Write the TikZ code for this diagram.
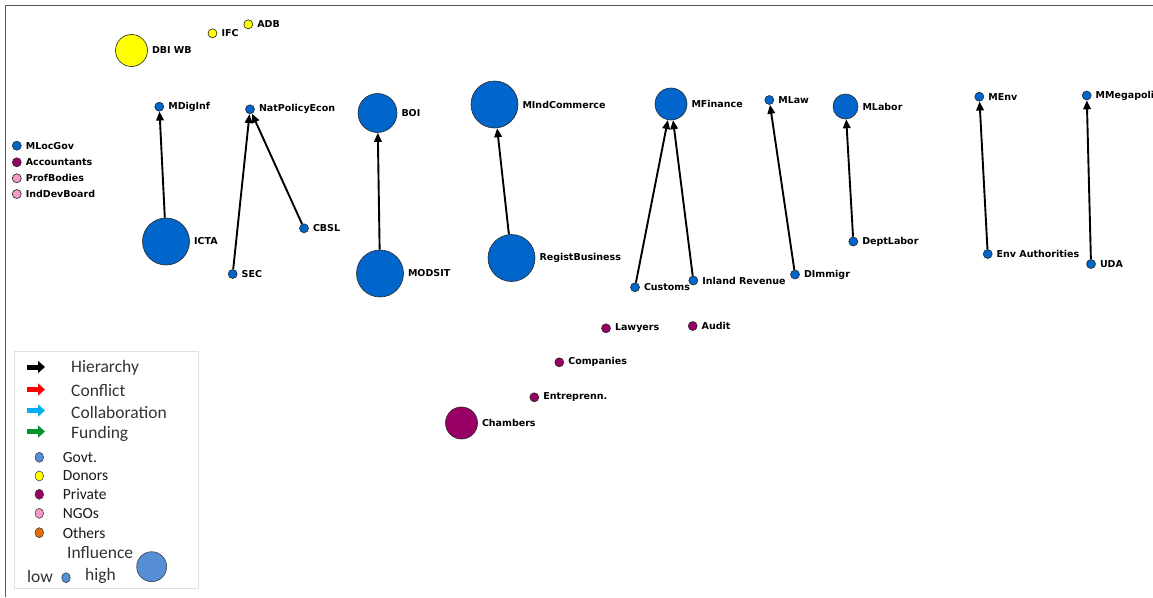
\documentclass[tikz,border=0pt]{standalone}
\usepackage{fontspec}
\setmainfont{DejaVu Sans}
\newfontfamily\legfont{Carlito}
\usetikzlibrary{arrows.meta,shapes.geometric}
\definecolor{govblue}{HTML}{0066CC}
\definecolor{donoryel}{HTML}{FFFF00}
\definecolor{privpur}{HTML}{990066}
\definecolor{ngopink}{HTML}{F49AC8}
\definecolor{leggov}{HTML}{558ED5}
\definecolor{legoth}{HTML}{E36C09}
\definecolor{legcyan}{HTML}{00B0F0}
\definecolor{leggreen}{HTML}{00952A}
\definecolor{framegray}{HTML}{555555}
\begin{document}
\begin{tikzpicture}[x=1pt,y=-1pt,
  actor/.style={circle, draw=black!85, line width=0.6pt, inner sep=0pt, minimum size=#1},
  actor/.default=9pt,
  gov/.style={fill=govblue},
  donor/.style={fill=donoryel},
  priv/.style={fill=privpur},
  ngo/.style={fill=ngopink},
  every label/.style={font=\bfseries\fontsize{9.5}{10}\selectfont, inner sep=0pt, text=black},
  label distance=4pt,
  tie/.style={-{Triangle[length=9pt,width=7.5pt]}, line width=1.9pt, black},
  legarrow/.style={line width=5pt, -{Triangle[length=7pt,width=12pt]}},
  legtxt/.style={font=\legfont\fontsize{17.5}{18}\selectfont, anchor=west, inner sep=0pt, text=black!80},
  legsm/.style={font=\legfont\fontsize{15.5}{16}\selectfont, anchor=west, inner sep=0pt, text=black!90},
  legdot/.style={ellipse, draw=black!80, line width=0.5pt, inner sep=0pt, minimum width=8.6pt, minimum height=10pt}
]
\useasboundingbox (0,0) rectangle (1153,597);
\fill[white] (0,0) rectangle (1153,597);
% frame
\draw[framegray, line width=1.4pt] (5.5,597) -- (5.5,5.5) -- (1153,5.5);

% donors
\node[actor=32pt, donor, label=right:DBI WB] (dbiwb) at (131.5,50.5) {};
\node[actor, donor, label=right:IFC] (ifc) at (212.5,33.3) {};
\node[actor, donor, label=right:ADB] (adb) at (248.3,24.3) {};

% top row
\node[actor, gov, label=right:MDigInf] (mdiginf) at (159.3,106.7) {};
\node[actor, gov, label=right:NatPolicyEcon] (natpol) at (250,109.3) {};
\node[actor=39pt, gov, label=right:BOI] (boi) at (377.5,113) {};
\node[actor=47pt, gov, label=right:MIndCommerce] (mind) at (494.5,104.5) {};
\node[actor=32pt, gov, label=right:MFinance] (mfin) at (671,104) {};
\node[actor, gov, label=right:MLaw] (mlaw) at (769.3,100) {};
\node[actor=25pt, gov, label=right:MLabor] (mlabor) at (845.5,106.5) {};
\node[actor, gov, label=right:MEnv] (menv) at (979.3,96.7) {};
\node[actor, gov, label=right:MMegapoli] (mmega) at (1086.7,95.5) {};

% isolates left
\node[actor, gov, label=right:MLocGov] (mlocgov) at (16.8,145.7) {};
\node[actor, priv, label=right:Accountants] (acc) at (16.8,162.3) {};
\node[actor, ngo, label=right:ProfBodies] (prof) at (16.8,178.3) {};
\node[actor, ngo, label=right:IndDevBoard] (inddev) at (16.8,194) {};

% lower row
\node[actor=47pt, gov, label=right:ICTA] (icta) at (166,241.5) {};
\node[actor, gov, label=right:CBSL] (cbsl) at (304,228.3) {};
\node[actor, gov, label=right:SEC] (sec) at (232.7,274) {};
\node[actor=47pt, gov, label=right:MODSIT] (modsit) at (380,273.5) {};
\node[actor=47pt, gov, label=right:RegistBusiness] (regist) at (511.5,258) {};
\node[actor, gov, label=right:Customs] (customs) at (635,287.3) {};
\node[actor, gov, label=right:Inland Revenue] (inland) at (693.3,280.5) {};
\node[actor, gov, label=right:DImmigr] (dimm) at (795,274.5) {};
\node[actor, gov, label=right:DeptLabor] (deptlab) at (853.3,241.5) {};
\node[actor, gov, label=right:Env Authorities] (envauth) at (987.7,254) {};
\node[actor, gov, label=right:UDA] (uda) at (1091,264) {};

% private
\node[actor, priv, label=right:Lawyers] (lawyers) at (606,328.3) {};
\node[actor, priv, label=right:Audit] (audit) at (692.7,326) {};
\node[actor, priv, label=right:Companies] (comp) at (559.3,362.3) {};
\node[actor, priv, label=right:Entreprenn.] (entre) at (534.3,397.3) {};
\node[actor=32pt, priv, label=right:Chambers] (chambers) at (461.5,423) {};

% hierarchy ties
\draw[tie] (icta) -- (mdiginf);
\draw[tie] (sec) -- (natpol);
\draw[tie] (cbsl) -- (natpol);
\draw[tie] (modsit) -- (boi);
\draw[tie] (regist) -- (mind);
\draw[tie] (customs) -- (mfin);
\draw[tie] (inland) -- (mfin);
\draw[tie] (dimm) -- (mlaw);
\draw[tie] (deptlab) -- (mlabor);
\draw[tie] (envauth) -- (menv);
\draw[tie] (uda) -- (mmega);

% legend
\node[draw=black!12, line width=0.6pt, minimum width=184pt, minimum height=236.6pt, inner sep=0pt] (legbox) at (106.7,470) {};
\coordinate (la1) at (27.3,367); \coordinate (lb1) at (45,367);
\coordinate (la2) at (27.3,389.5); \coordinate (lb2) at (45,389.5);
\coordinate (la3) at (27.3,410.5); \coordinate (lb3) at (45,410.5);
\coordinate (la4) at (27.3,431.5); \coordinate (lb4) at (45,431.5);
\draw[legarrow, black] (la1) -- (lb1);
\draw[legarrow, red] (la2) -- (lb2);
\draw[legarrow, legcyan] (la3) -- (lb3);
\draw[legarrow, leggreen] (la4) -- (lb4);
\node[legtxt] (t1) at (71,368.3) {Hierarchy};
\node[legtxt] (t2) at (71,391) {Conflict};
\node[legtxt] (t3) at (71,412.3) {Collaboration};
\node[legtxt] (t4) at (71,434) {Funding};

\node[legdot, fill=leggov] (d1) at (39.3,457.3) {};
\node[legdot, fill=donoryel] (d2) at (39.3,476) {};
\node[legdot, fill=privpur] (d3) at (39.3,494.3) {};
\node[legdot, fill=ngopink] (d4) at (39.3,513.3) {};
\node[legdot, fill=legoth] (d5) at (39.3,532.7) {};
\node[legsm] (g1) at (62.7,457.3) {Govt.};
\node[legsm] (g2) at (62.7,476) {Donors};
\node[legsm] (g3) at (62.7,494.3) {Private};
\node[legsm] (g4) at (62.7,513.3) {NGOs};
\node[legsm] (g5) at (62.7,532.7) {Others};

\node[legtxt] (infl) at (67,553) {Influence};
\node[legtxt] (low) at (27,576) {low};
\node[legdot, fill=leggov] (lowdot) at (66,577.7) {};
\node[legtxt] (high) at (85,576) {high};
\node[circle, draw=black!80, line width=0.5pt, inner sep=0pt, minimum size=30pt, fill=leggov] (highdot) at (151.7,566.7) {};
\end{tikzpicture}
\end{document}
